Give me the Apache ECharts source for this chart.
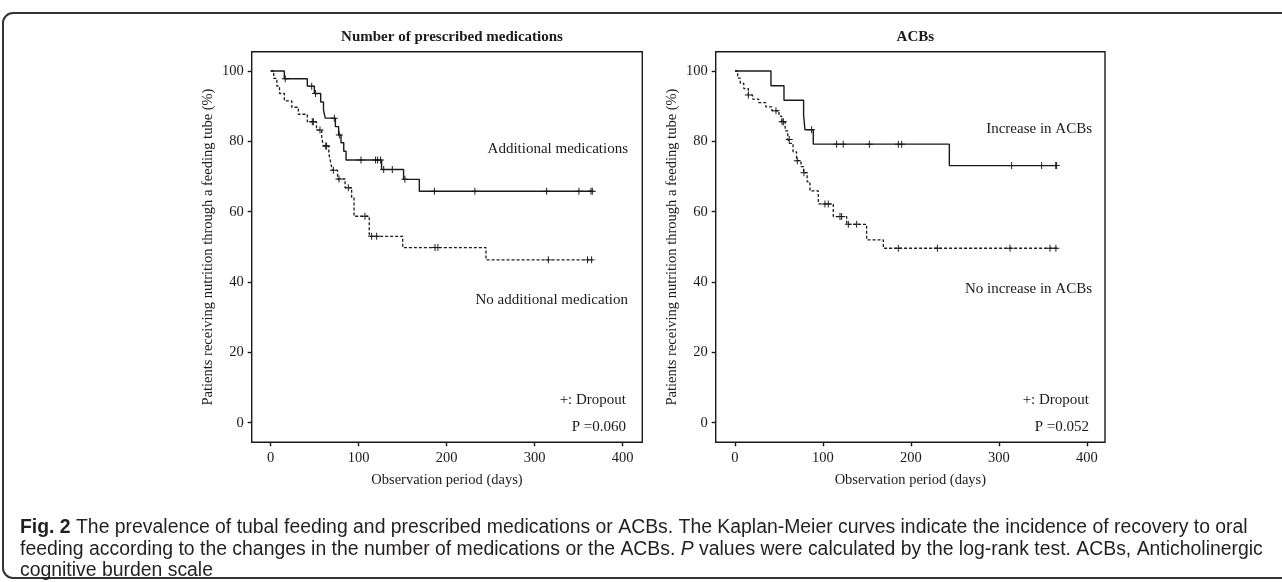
<!DOCTYPE html>
<html><head><meta charset="utf-8">
<script src="https://cdn.jsdelivr.net/npm/echarts@6/dist/echarts.min.js"></script>
<style>html,body{margin:0;padding:0;background:#fff}#c{width:1282px;height:582px}</style>
</head><body><div id="c"></div>
<script>
// ---- data ----
const xTicks = [0, 100, 200, 300, 400];
const yTicks = [0, 20, 40, 60, 80, 100];
const panelTitles = ['Number of prescribed medications', 'ACBs'];
const endDay = 366;

// Left panel: Additional medications (solid)
const addDays = [15.5, 41.6, 49.6, 56.8, 60, 62, 73.5, 77.2, 79.9, 83, 85.6, 126, 151, 168.9];
const addSurv = [97.8, 95.7, 93.6, 91.2, 88.9, 86.6, 84.2, 81.8, 79.6, 77.2, 74.7, 72.0, 69.2, 65.8];
const addCens = [16.5, 46.6, 51, 72.3, 78, 102.6, 119.2, 121.5, 124.9, 128.4, 138.2, 152.5, 186, 232, 313.6, 350.3, 364, 365.5];

// Left panel: No additional medication (dashed)
const noAddDays = [3.4, 7, 10, 15.5, 24, 31.4, 41.6, 52, 58, 60, 66, 68, 70, 76, 84.5, 92, 94.7, 112, 150, 244.7];
const noAddSurv = [97.9, 95.7, 93.6, 91.5, 89.7, 87.7, 85.6, 83.2, 81.0, 78.7, 76.5, 74.2, 71.8, 69.3, 66.8, 63.9, 58.7, 53.0, 49.8, 46.3];
const noAddCens = [47.3, 48.5, 56, 62.5, 63.5, 71.2, 77.6, 88.2, 107.1, 114.7, 120.4, 186.7, 190, 315.5, 360, 364.7];

// Right panel: Increase in ACBs (solid)
const incDays = [40.9, 55.7, 78, 79.5, 89, 243.6];
const incSurv = [95.8, 91.7, 87.5, 83.3, 79.2, 73.1];
const incCens = [87.1, 115.5, 123, 152.7, 185.6, 189.4, 314.4, 348.5, 364.5, 365.5];

// Right panel: No increase in ACBs (dashed)
const noIncDays = [3, 6, 10, 15.2, 20, 27, 35, 42, 50, 53, 57, 60, 62, 66, 70, 75, 78, 82, 85.2, 94.7, 111.7, 126.9, 149.6, 168.6];
const noIncSurv = [98, 96.5, 95, 93.2, 92, 91, 89.8, 88.7, 87.2, 85.6, 83, 80.5, 79.4, 77, 74.5, 72.8, 71.1, 68.5, 65.9, 62.2, 58.6, 56.4, 52.0, 49.6];
const noIncCens = [15.2, 46.6, 53.5, 55, 61.7, 70.8, 78.4, 102.3, 106, 119.3, 121.2, 128.8, 138.3, 185.6, 230, 312.5, 358, 364.7];

// ---- helpers ----
function steps(days, surv) {
  const pts = [[0, 100]];
  days.forEach((d, i) => pts.push([d, surv[i]]));
  pts.push([endDay, surv[surv.length - 1]]);
  return pts;
}
function survAt(days, surv, t) {
  let v = 100;
  for (let i = 0; i < days.length; i++) if (days[i] <= t) v = surv[i];
  return v;
}
function cens(days, surv, c) { return c.map(t => [t, survAt(days, surv, t)]); }

const ink = '#1a1a1a';
const serif = '"Liberation Serif", "Times New Roman", serif';
const plus = 'path://M4.3,0H5.7V4.3H10V5.7H5.7V10H4.3V5.7H0V4.3H4.3Z';

function lineS(idx, data, dashed) {
  return { type: 'line', xAxisIndex: idx, yAxisIndex: idx, data: data, step: 'end', symbol: 'none',
    lineStyle: { color: ink, width: dashed ? 1.3 : 1.4, type: dashed ? [3, 2] : 'solid' }, silent: true, animation: false };
}
function censS(idx, data) {
  return { type: 'scatter', xAxisIndex: idx, yAxisIndex: idx, data: data, symbol: plus, symbolSize: [7, 7],
    itemStyle: { color: ink, opacity: 1 }, silent: true, animation: false, z: 3 };
}

const grids = [
  { left: 251.7, top: 51.7, width: 390.6, height: 390.6 },
  { left: 715.7, top: 51.7, width: 389.3, height: 390.6 }
];
const xRanges = [[-21.6, 422.3], [-21.9, 420.5]];

function xAx(i) {
  return { type: 'value', gridIndex: i, min: xRanges[i][0], max: xRanges[i][1], position: 'bottom',
    name: 'Observation period (days)', nameLocation: 'middle', nameGap: 30,
    nameTextStyle: { fontFamily: serif, fontSize: 14.5, color: ink },
    axisLine: { show: false, onZero: false }, splitLine: { show: false },
    axisTick: { show: true, length: 4, customValues: xTicks, lineStyle: { color: ink, width: 1.4 } },
    axisLabel: { customValues: xTicks, margin: 8, fontFamily: serif, fontSize: 14.5, color: ink } };
}
function yAx(i) {
  return { type: 'value', gridIndex: i, min: -5.57, max: 105.49, position: 'left',
    name: 'Patients receiving nutrition through a feeding tube (%)', nameLocation: 'middle', nameGap: 36,
    nameTextStyle: { fontFamily: serif, fontSize: 14.5, color: ink },
    axisLine: { show: false, onZero: false }, splitLine: { show: false },
    axisTick: { show: true, length: 4, customValues: yTicks, lineStyle: { color: ink, width: 1.4 } },
    axisLabel: { customValues: yTicks, margin: 8, fontFamily: serif, fontSize: 14.5, color: ink } };
}

function txt(x, y, s, opt) {
  return Object.assign({ type: 'text', x: x, y: y, silent: true,
    style: Object.assign({ text: s, fill: ink, font: '15px ' + serif, align: 'right', verticalAlign: 'middle' }, opt || {}) });
}

const capFont = '"Liberation Sans", Arial, sans-serif';
const capSize = 19.4;
const capStyle = { fill: '#231f20', fontFamily: capFont, fontSize: capSize, align: 'left', verticalAlign: 'middle',
  rich: { b: { fontFamily: capFont, fontSize: capSize, fontWeight: 'bold', fill: '#231f20' },
          i: { fontFamily: capFont, fontSize: capSize, fontStyle: 'italic', fill: '#231f20' } } };
function cap(y, s) { return { type: 'text', x: 20, y: y, silent: true, style: Object.assign({ text: s }, capStyle) }; }

const chart = echarts.init(document.getElementById('c'), null, { renderer: 'canvas' });
chart.setOption({
  animation: false,
  backgroundColor: '#fff',
  title: panelTitles.map((t, i) => ({ text: t, left: grids[i].left + grids[i].width / 2, top: 25, textAlign: 'center',
    textStyle: { fontFamily: serif, fontSize: 15, fontWeight: 'bold', color: ink } })),
  grid: grids.map(g => Object.assign({ show: true, borderColor: ink, borderWidth: 1.4, backgroundColor: 'transparent' }, g)),
  xAxis: [xAx(0), xAx(1)],
  yAxis: [yAx(0), yAx(1)],
  series: [
    lineS(0, steps(addDays, addSurv), false),
    censS(0, cens(addDays, addSurv, addCens)),
    lineS(0, steps(noAddDays, noAddSurv), true),
    censS(0, cens(noAddDays, noAddSurv, noAddCens)),
    lineS(1, steps(incDays, incSurv), false),
    censS(1, cens(incDays, incSurv, incCens)),
    lineS(1, steps(noIncDays, noIncSurv), true),
    censS(1, cens(noIncDays, noIncSurv, noIncCens))
  ],
  graphic: [
    { type: 'rect', silent: true, shape: { x: 3, y: 13, width: 1300, height: 565, r: 10 }, style: { fill: 'none', stroke: '#333', lineWidth: 2 } },
    txt(628, 149, 'Additional medications'),
    txt(628, 300, 'No additional medication'),
    txt(626, 400, '+: Dropout'),
    txt(626, 426.7, 'P =0.060'),
    txt(1092, 129, 'Increase in ACBs'),
    txt(1092, 289, 'No increase in ACBs'),
    txt(1089, 400, '+: Dropout'),
    txt(1089, 426.7, 'P =0.052'),
    cap(528, '{b|Fig. 2} The prevalence of tubal feeding and prescribed medications or ACBs. The Kaplan-Meier curves indicate the incidence of recovery to oral'),
    cap(550, 'feeding according to the changes in the number of medications or the ACBs. {i|P} values were calculated by the log-rank test. ACBs, Anticholinergic'),
    cap(571, 'cognitive burden scale')
  ]
});
</script></body></html>
